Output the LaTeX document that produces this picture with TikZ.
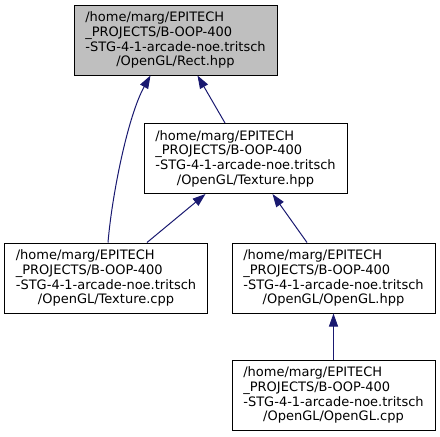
\documentclass[tikz,border=0pt]{standalone}
\usepackage{fontspec}
\setmainfont{DejaVu Sans}
\usepackage{xcolor}
\usetikzlibrary{arrows.meta,positioning,calc}
\definecolor{cEdge}{HTML}{191970}
\definecolor{cRoot}{HTML}{BFBFBF}
\definecolor{cInk}{HTML}{000000}
% the long project prefix, left aligned; file name centered under it
\newcommand{\incpath}[1]{%
  \begin{tabular}[b]{@{}l@{}}/home/marg/EPITECH\\\_PROJECTS/B-OOP-400\\-STG-4-1-arcade-noe.tritsch\end{tabular}\\/OpenGL/#1}
\tikzset{
  file/.style = {draw=cInk, line width=1pt, align=center, inner sep=0pt,
                 minimum width=203pt, minimum height=70pt,
                 font=\fontsize{13}{14.7}\selectfont},
  root/.style = {file, fill=cRoot},
  dep/.style  = {draw=cEdge, line width=1pt, -{Triangle[length=13pt,width=9pt]}},
}

\begin{document}
\begin{tikzpicture}[x=1pt,y=-1pt]
  \useasboundingbox (0,0) rectangle (440,437);
  % headers
  \node[root] (rect) at (175.5,40) {\incpath{Rect.hpp}};
  \node[file] (texhpp) at (245.5,158.5) {\incpath{Texture.hpp}};
  % files including them
  \node[file] (texcpp) at (106,278) {\incpath{Texture.cpp}};
  \node[file] (glhpp) at (333.5,278) {\incpath{OpenGL.hpp}};
  \node[file] (glcpp) at (333.5,395) {\incpath{OpenGL.cpp}};
  % include edges
  \draw[dep] ([xshift=2pt]texcpp.north) .. controls +(4,-48) and +(-22.5,40)
    .. ([xshift=-25pt]rect.south);
  \draw[dep] ([xshift=-20.5pt]texhpp.north) -- ([xshift=22pt]rect.south);
  \draw[dep] ([xshift=41pt]texcpp.north) -- ([xshift=-40pt]texhpp.south);
  \draw[dep] ([xshift=-26.5pt]glhpp.north) -- ([xshift=27pt]texhpp.south);
  \draw[dep] (glcpp) -- (glhpp);
\end{tikzpicture}
\end{document}
